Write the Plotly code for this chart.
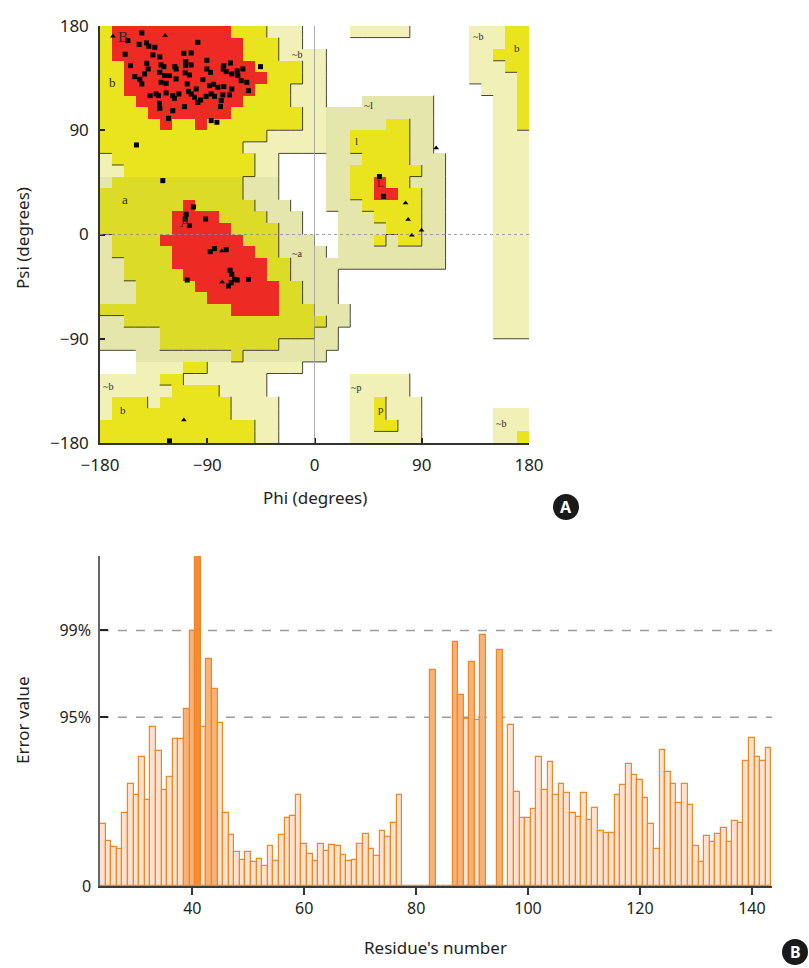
import plotly.graph_objects as go

W, H = 809, 968

# ---------------- Ramachandran data ----------------
# region grid: rows psi 180->-180 (10 deg), cols phi -180->180 (10 deg)
# R core, Y allowed, P generous, W disallowed
region_rows = [
    "YRRRRRRRRRRYYYPPPWWWWPPPPPWWWWWPPPYY",
    "YRRRRRRRRRRRYYYPPWWWWWWWWWWWWWWPPPYY",
    "YRRRRRRRRRRRYYYPPPPWWWWWWWWWWWWPPYYY",
    "YYRRRRRRRRRRRYYYYPPWWWWWWWWWWWWPPPYY",
    "YYRRRRRRRRRRRRYYYPPWWWWWWWWWWWWPPPPY",
    "YYRRRRRRRRRRRYYYPPPWWWWWWWWWWWWWPPPY",
    "YYYRRRRRRRRRYYYYPPPWWWPPPPPPWWWWWPPY",
    "YYYYRRRRRRRYYYYYYPPPPPPPPPPPWWWWWPPY",
    "YYYYYRYYRYYYYYYYYPPPPPPPYYPPWWWWWPPY",
    "YYYYYYYYYYYYYYPPPPPPPYYYYYPPWWWWWPPP",
    "YYYYYYYYYYYYPPPPPPPPPYYYYYPPWWWWWPPP",
    "PYYYYYYYYYYYYPPWWWWPPPYYYYPPPWWWWPPP",
    "PPYYYYYYYYYYYPPWWWWPPYYYYYYPPWWWWPPP",
    "PYYYYYYYYYYYPPPWWWWPPYYRYYPPPWWWWPPP",
    "YYYYYYYYYYYYPPPWWWWPPYYRRYYPPWWWWPPP",
    "YYYYYYYRYYYYYPPPWWWPPPYYYYYPPWWWWPPP",
    "YYYYYYRRRRYYYYPPPWWWPPPYYYYPPWWWWPPP",
    "YYYYYYRRRRRYYYYPPWWWPPPPYYYPPWWWWPPP",
    "PYYYYRRRRRRRYYYPPPWWPPPYPYYPPWWWWPPP",
    "PYYYYYRRRRRRRYYPPPPWPPPPPPPPPWWWWPPP",
    "PPYYYYRRRRRRRRYYPPPPPPPPPPPPPWWWWPPP",
    "PPYYYYYRRRRRRRYYPPPPWWWWWWWWWWWWWPPP",
    "PPPYYYYYRRRRRRRYYPPPWWWWWWWWWWWWWPPP",
    "PPPYYYYYYRRRRRRYYPPPWWWWWWWWWWWWWPPP",
    "YYYYYYYYYYYRRRRYYYPPPWWWWWWWWWWWWPPP",
    "PPYYYYYYYYYYYYYYYYYPPWWWWWWWWWWWWPPP",
    "PPPPPYYYYYYYYYYYYYPPWWWWWWWWWWWWWPPP",
    "PPPPPYYYYYYYYYYPPPPPWWWWWWWWWWWWWWWW",
    "WWWPPPPPPPPYPPPPPPPWWWWWWWWWWWWWWWWW",
    "WWWPPPPYYPPPPPPPPWWWWWWWWWWWWWWWWWWW",
    "PPPPPYYPPPPPPPWWWWWWWPPPPPWWWWWWWWWW",
    "PPPPPPYYYYPPPPWWWWWWWPPPPPWWWWWWWWWW",
    "PYYYPYYYYYYPPPPWWWWWWPPYPPPWWWWWWWWW",
    "PYYYYYYYYYYPPPPWWWWWWPPYPPPWWWWWWPPP",
    "YYYYYYYYYYYYYPPWWWWWWPPYYPPWWWWWWPPP",
    "YYYYYYYYYYYYYPPWWWWWWPPPPPPWWWWWWPPY",
]
region_level = {"W": 0, "P": 1, "Y": 2, "R": 3}
# slightly darker (scanned) band in the lower-left part of the map
band_psi = (-110, 50)
band_phi = (-180, 30)
# greenish generous region around "l"
lbox_psi = (-30, 120)
lbox_phi = (10, 110)

# residues (squares: non-Gly, triangles: Gly)
sq_phi = [-156.6, -144.9, -147.1, -141.0, -139.0, -134.0, -97.9, -109.6, -103.5, -158.9,
          -135.6, -129.8, -108.0, -108.2, -103.5, -90.3, -70.5, -76.1, -45.3, -154.4,
          -140.7, -139.6, -128.7, -126.4, -129.8, -117.2, -116.1, -90.3, -87.3, -76.6,
          -74.1, -69.4, -64.9, -60.1, -64.3, -142.6, -150.8, -146.6, -144.9, -125.9,
          -121.7, -124.5, -116.1, -108.5, -104.9, -106.8, -93.7, -88.1, -84.7, -81.1,
          -76.1, -61.5, -56.8, -55.4, -105.7, -99.3, -86.7, -128.7, -137.9, -132.9,
          -130.9, -124.5, -118.9, -117.5, -113.8, -103.5, -100.7, -95.6, -90.9, -83.9,
          -76.9, -78.3, -69.4, -71.3, -130.1, -129.8, -118.9, -109.1, -97.9, -78.9,
          -122.5, -86.7, -81.9,
          -149.4, -127.3, -101.5, -107.7, -108.5, -104.9, -91.4,
          -87.5, -83.9, -74.1, -106.8, -70.8, -69.4, -67.1, -64.9, -69.9, -72.2, -55.4,
          54.5, 57.9, -121.7]
sq_psi = [167.4, 174.0, 164.2, 165.4, 162.5, 161.6, 165.9, 156.4, 156.7, 155.6,
          155.0, 153.3, 149.2, 145.8, 146.4, 150.4, 148.1, 145.8, 144.9, 145.8,
          147.8, 142.9, 146.4, 144.9, 140.0, 144.9, 142.9, 142.9, 140.0, 142.9,
          140.6, 138.6, 141.2, 142.9, 137.2, 138.6, 136.3, 134.0, 130.0, 137.2,
          137.2, 130.5, 134.3, 139.5, 137.7, 130.0, 133.7, 128.5, 129.7, 127.1,
          127.7, 132.8, 131.4, 124.2, 123.6, 125.6, 121.3, 131.4, 119.9, 121.3,
          119.9, 122.2, 119.9, 117.6, 121.3, 121.3, 118.5, 116.1, 119.3, 119.3,
          120.5, 115.6, 125.6, 120.5, 113.3, 108.9, 106.9, 110.4, 114.1, 110.4,
          100.3, 98.3, 96.9,
          77.3, 46.5, 23.8, 17.4, 13.4, 7.7, 13.4,
          -14.8, -12.2, -13.1, -39.3, -30.9, -34.4, -38.7, -39.3, -41.6, -44.4, -38.7,
          50.0, 32.9, -178.2]
tri_phi = [-77.5, -77.7, -169.2, -125.3, 102.1, 76.4, 78.6, 81.7, 89.8, -109.6]
tri_psi = [-41.0, -14.2, 171.1, 171.7, 74.7, 27.2, 12.9, -0.6, 3.7, -160.1]

region_labels = ["B", "b", "~b", "a", "A", "~a", "~l", "l", "L", "~b", "b", "~p", "p", "~b", "b", "~b"]
label_phi = [-160.3, -169.5, -14.3, -159.4, -108.2, -15.1, 45.3, 35.2, 55.4, 136.8, 170.3, 35.2, 55.4, -172.9, -160.3, 156.9]
label_psi = [170.2, 131.4, 155.6, 30.4, 10.5, -16.2, 111.5, 80.5, 44.2, 171.1, 160.7, -131.9, -150.9, -131.1, -151.8, -163.0]
label_size = [15, 13, 10, 13, 14, 10, 11, 11, 11, 10, 11, 10, 11, 10, 11, 10]

rama_ticks = [-180, -90, 0, 90, 180]
rama_ticktext = ["\u2212180", "\u221290", "0", "90", "180"]

# ---------------- ERRAT data ----------------
residues = list(range(24, 144))
error_values = [
    4.18, 3.05, 2.60, 2.47, 4.94, 6.87, 6.15, 8.66, 5.77, 10.71,   # 24-33
    9.11, 6.49, 7.36, 9.92, 9.92, 11.92, 17.13, 22.5, 10.73, 15.26, # 34-43
    13.24, 10.98, 4.94, 3.41, 2.27, 1.75, 2.27, 1.59, 1.84, 1.32,   # 44-53
    2.69, 1.68, 3.41, 4.56, 4.74, 6.11, 2.81, 2.18, 1.68, 2.85,     # 54-63
    2.38, 2.78, 2.72, 2.11, 1.66, 1.73, 2.85, 3.48, 2.51, 2.00,     # 64-73
    3.70, 3.28, 4.24, 6.15, 0, 0, 0, 0, 0, 14.55,                   # 74-83
    0, 0, 0, 16.43, 12.84, 11.22, 15.08, 11.16, 16.86, 0,           # 84-93
    0, 15.85, 0, 10.80, 6.35, 4.56, 4.60, 5.19, 8.66, 6.46,         # 94-103
    8.31, 6.13, 6.85, 6.29, 4.89, 4.62, 6.24, 4.42, 5.23, 3.73,     # 104-113
    3.59, 3.59, 6.11, 6.80, 8.19, 7.50, 7.16, 5.93, 4.18, 2.47,     # 114-123
    9.16, 7.65, 6.89, 5.57, 6.85, 5.45, 2.72, 1.62, 3.39, 2.96,     # 124-133
    3.50, 3.88, 2.96, 4.40, 4.22, 8.44, 9.94, 8.69, 8.40, 9.27,     # 134-143
]
limit95 = 11.36
limit99 = 17.19
error_ticks = [0, limit95, limit99]
error_ticktext = ["0", "95%", "99%"]
residue_ticks = [40, 60, 80, 100, 120, 140]


def px_x(p):
    return p / W


def px_y(p):
    return 1 - p / H


# plot boxes (pixels)
R_L, R_R, R_T, R_B = 100, 529, 26, 443
E_L, E_R, E_T, E_B = 100, 772, 556, 886

FONT = "Noto Sans"
TXT = "#231f20"

fig = go.Figure()

# region heatmap (codes: 0 W, 1 P, 2 P-tint, 3 Y, 4 Y-band, 5 R)
phi_c = [-175 + 10 * i for i in range(36)]
psi_c = [175 - 10 * j for j in range(36)]
levels = [[region_level[c] for c in row] for row in region_rows]


def inside(psi, phi, box_psi, box_phi):
    return box_psi[0] < psi < box_psi[1] and box_phi[0] < phi < box_phi[1]


z = []
for j, row in enumerate(levels):
    zr = []
    for i, lv in enumerate(row):
        in_band = inside(psi_c[j], phi_c[i], band_psi, band_phi)
        in_l = inside(psi_c[j], phi_c[i], lbox_psi, lbox_phi)
        if lv == 0:
            zr.append(0)
        elif lv == 1:
            zr.append(2 if (in_band or in_l) else 1)
        elif lv == 2:
            zr.append(4 if in_band else 3)
        else:
            zr.append(5)
    z.append(zr)

cols6 = ["#ffffff", "#f1f0b6", "#e5e6ab", "#e9e41e", "#dcdb28", "#ee2a24"]
cs = []
for k, c in enumerate(cols6):
    cs.append([k / 6, c])
    cs.append([(k + 1) / 6, c])
fig.add_trace(go.Heatmap(
    x=phi_c, y=psi_c, z=z, zmin=-0.5, zmax=5.5, showscale=False, colorscale=cs,
    hoverinfo="skip", xaxis="x", yaxis="y"))

# dark edges on right/bottom of higher regions (derived from the grid)
ex, ey = [], []
for j, row in enumerate(levels):
    for i, c in enumerate(row):
        if c == 3:
            continue
        if i < 35 and c > row[i + 1]:
            xv = -180 + 10 * (i + 1)
            ex += [xv, xv, None]
            ey += [180 - 10 * j, 170 - 10 * j, None]
        if j < 35 and c > levels[j + 1][i]:
            yv = 170 - 10 * j
            ex += [-180 + 10 * i, -170 + 10 * i, None]
            ey += [yv, yv, None]
fig.add_trace(go.Scatter(x=ex, y=ey, mode="lines", line=dict(color="rgba(40,40,30,0.85)", width=1),
                         hoverinfo="skip", showlegend=False, xaxis="x", yaxis="y"))

fig.add_trace(go.Scatter(x=sq_phi, y=sq_psi, mode="markers",
                         marker=dict(symbol="square", size=5, color="#000000"),
                         showlegend=False, xaxis="x", yaxis="y"))
fig.add_trace(go.Scatter(x=tri_phi, y=tri_psi, mode="markers",
                         marker=dict(symbol="triangle-up", size=5, color="#000000"),
                         showlegend=False, xaxis="x", yaxis="y"))

# ERRAT bars
def bar_color(v):
    if v >= limit99:
        return "#f68b33"
    if v >= limit95:
        return "#f9b275"
    return "#fde3cf"

fig.add_trace(go.Bar(
    x=residues, y=error_values, width=1.0,
    marker=dict(color=[bar_color(v) for v in error_values],
                line=dict(color="#f28526", width=1.2)),
    showlegend=False, xaxis="x2", yaxis="y2"))

shapes = []
# phi = 0 and psi = 0 guide lines
shapes.append(dict(type="line", xref="x", yref="y", x0=0, x1=0, y0=-180, y1=180,
                   line=dict(color="#9a9a9a", width=0.8), layer="above"))
shapes.append(dict(type="line", xref="x", yref="y", x0=-180, x1=180, y0=0, y1=0,
                   line=dict(color="#8a8a8a", width=0.8, dash="dot"), layer="above"))
# ERRAT limit lines
for lv in (limit95, limit99):
    shapes.append(dict(type="line", xref="x2 domain", yref="y2", x0=0, x1=1, y0=lv, y1=lv,
                       line=dict(color="#9c9c9c", width=1.5, dash="dash"), layer="below"))

annotations = []
for t, x, y, s in zip(region_labels, label_phi, label_psi, label_size):
    annotations.append(dict(text=t, x=x, y=y, xref="x", yref="y", showarrow=False,
                            font=dict(family="Liberation Serif", size=s,
                                      color="#7a1010" if t == "L" else "#2a2a2a")))

# axis titles
title_font = dict(family=FONT, size=17, color=TXT)
annotations += [
    dict(text="Phi (degrees)", x=px_x(315), y=px_y(497), xref="paper", yref="paper",
         xanchor="center", yanchor="middle", showarrow=False, font=title_font),
    dict(text="Psi (degrees)", x=px_x(22), y=px_y(238), xref="paper", yref="paper",
         xanchor="center", yanchor="middle", showarrow=False, textangle=-90, font=title_font),
    dict(text="Residue's number", x=px_x(436), y=px_y(947), xref="paper", yref="paper",
         xanchor="center", yanchor="middle", showarrow=False, font=title_font),
    dict(text="Error value", x=px_x(22), y=px_y(720), xref="paper", yref="paper",
         xanchor="center", yanchor="middle", showarrow=False, textangle=-90, font=title_font),
]

# panel badges
for letter, cx, cy in (("A", 566, 507), ("B", 795, 952)):
    r = 13
    shapes.append(dict(type="circle", xref="paper", yref="paper",
                       x0=px_x(cx - r), x1=px_x(cx + r), y0=px_y(cy + r), y1=px_y(cy - r),
                       fillcolor="#1a1a1a", line=dict(width=0)))
    annotations.append(dict(text="<b>%s</b>" % letter, x=px_x(cx), y=px_y(cy), xref="paper",
                            yref="paper", showarrow=False, xanchor="center", yanchor="middle",
                            font=dict(family=FONT, size=16, color="#ffffff")))

axis_font = dict(family=FONT, size=17, color=TXT)

fig.update_layout(
    width=W, height=H, margin=dict(l=0, r=0, t=0, b=0, autoexpand=False),
    paper_bgcolor="#ffffff", plot_bgcolor="#ffffff",
    bargap=0,
    xaxis=dict(domain=[px_x(R_L), px_x(R_R)], range=[-180, 180], anchor="y", automargin=False,
               tickvals=rama_ticks, ticktext=rama_ticktext, ticks="inside", ticklen=5,
               tickwidth=1.5, tickcolor="#222", showline=True, linecolor="#333", linewidth=1.5,
               showgrid=False, zeroline=False, tickfont=axis_font, ticklabelstandoff=6),
    yaxis=dict(domain=[px_y(R_B), px_y(R_T)], range=[-180, 180], anchor="x", automargin=False,
               tickvals=rama_ticks, ticktext=rama_ticktext, ticks="inside", ticklen=5,
               tickwidth=1.5, tickcolor="#222", showline=True, linecolor="#333", linewidth=1.5,
               showgrid=False, zeroline=False, tickfont=axis_font, ticklabelstandoff=6),
    xaxis2=dict(domain=[px_x(E_L), px_x(E_R)], range=[23.5, 143.6], anchor="y2", automargin=False,
                tickvals=residue_ticks, ticks="outside", ticklen=7, tickwidth=1.5,
                tickcolor="#333", showline=True, linecolor="#3a3a3a", linewidth=2,
                showgrid=False, zeroline=False, tickfont=dict(family=FONT, size=16, color=TXT)),
    yaxis2=dict(domain=[px_y(E_B), px_y(E_T)], range=[0, 22.2], anchor="x2", automargin=False,
                tickvals=error_ticks, ticktext=error_ticktext, ticks="inside", ticklen=8,
                tickwidth=1.5, tickcolor="#222", showline=True, linecolor="#666", linewidth=1.5,
                showgrid=False, zeroline=False, tickfont=dict(family=FONT, size=16, color=TXT),
                ticklabelstandoff=4),
    shapes=shapes, annotations=annotations,
)

fig.write_html("out.html")
